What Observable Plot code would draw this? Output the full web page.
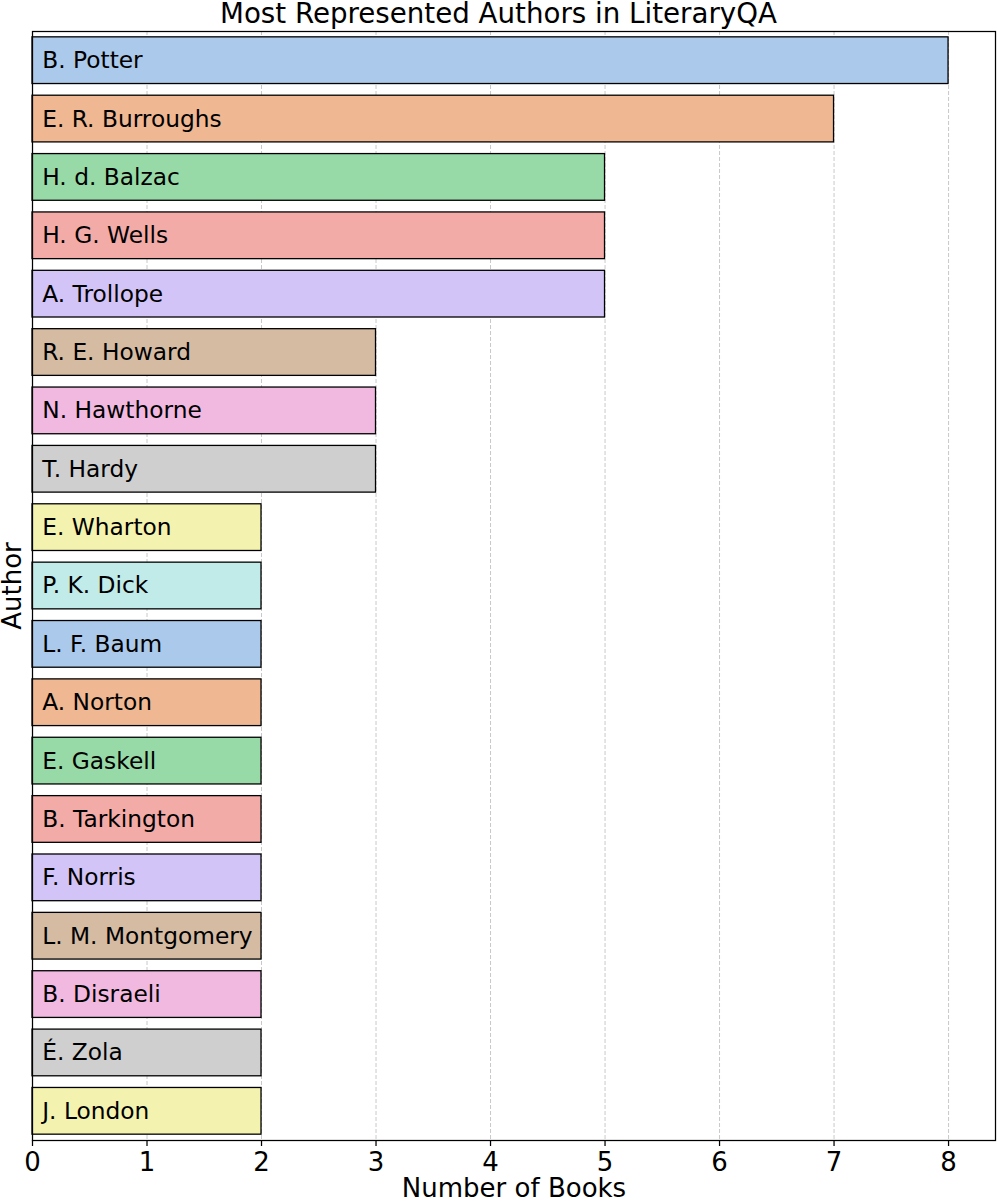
<!DOCTYPE html>
<html>
<head>
<meta charset="utf-8">
<script src="https://cdn.jsdelivr.net/npm/d3@7"></script>
<script src="https://cdn.jsdelivr.net/npm/@observablehq/plot@0.6"></script>
<style>
  body { margin: 0; background: #fff; font-family: "DejaVu Sans", sans-serif; }
  #wrap { position: relative; width: 997px; height: 1201px; }
  #title { position: absolute; top: 0; left: 0; width: 997px; text-align: center;
           font-size: 27.7px; line-height: 27.7px; color: #000; z-index: 2; }
  #chart { position: absolute; top: 0; left: 0; }
</style>
</head>
<body>
<div id="wrap">
  <div id="title">Most Represented Authors in LiteraryQA</div>
  <div id="chart"></div>
</div>
<script>
const authors = [
  "B. Potter", "E. R. Burroughs", "H. d. Balzac", "H. G. Wells", "A. Trollope",
  "R. E. Howard", "N. Hawthorne", "T. Hardy", "E. Wharton", "P. K. Dick",
  "L. F. Baum", "A. Norton", "E. Gaskell", "B. Tarkington", "F. Norris",
  "L. M. Montgomery", "B. Disraeli", "É. Zola", "J. London"
];
const books = [8, 7, 5, 5, 5, 3, 3, 3, 2, 2, 2, 2, 2, 2, 2, 2, 2, 2, 2];
const xTicks = [0, 1, 2, 3, 4, 5, 6, 7, 8];
const xLabel = "Number of Books";
const yLabel = "Author";
const palette = ["#a1c9f4", "#ffb482", "#8de5a1", "#ff9f9b", "#d0bbff",
                 "#debb9b", "#fab0e4", "#cfcfcf", "#fffea3", "#b9f2f0"];

const colors = palette.map(c => { const h = d3.hsl(c); h.s *= 0.75; return h.formatHex(); });
const data = authors.map((a, i) => ({ author: a, books: books[i], color: colors[i % colors.length] }));

const chart = Plot.plot({
  width: 997,
  height: 1201,
  marginTop: 31,
  marginBottom: 61,
  marginLeft: 32,
  marginRight: 2,
  style: { fontFamily: "DejaVu Sans", background: "white", color: "black" },
  x: { domain: [0, 8.41] },
  y: { domain: authors, paddingInner: 0.2, paddingOuter: 0.1, round: false, axis: null },
  marks: [
    Plot.gridX(xTicks, { stroke: "#b0b0b0", strokeOpacity: 0.7, strokeDasharray: "4,2", strokeWidth: 1 }),
    Plot.barX(data, { x: "books", y: "author", fill: "color", stroke: "black", strokeWidth: 1.3 }),
    Plot.text(data, { x: () => 0.085, y: "author", text: "author", textAnchor: "start",
                      lineAnchor: "middle", fontSize: 23.3, fill: "black" }),
    Plot.frame({ stroke: "black", strokeWidth: 1.25 }),
    Plot.axisX(xTicks, { tickSize: 6, tickPadding: 6, fontSize: 26, tickFormat: "d", label: null, stroke: "black", strokeWidth: 1.25 }),
    Plot.text([xLabel], { frameAnchor: "bottom", dy: 48, textAnchor: "middle", lineAnchor: "middle", fontSize: 26, fill: "black" }),
    Plot.text([yLabel], { frameAnchor: "left", dx: -19.5, rotate: -90, textAnchor: "middle", lineAnchor: "middle", fontSize: 26, fill: "black" })
  ]
});
document.getElementById("chart").appendChild(chart);
</script>
</body>
</html>
